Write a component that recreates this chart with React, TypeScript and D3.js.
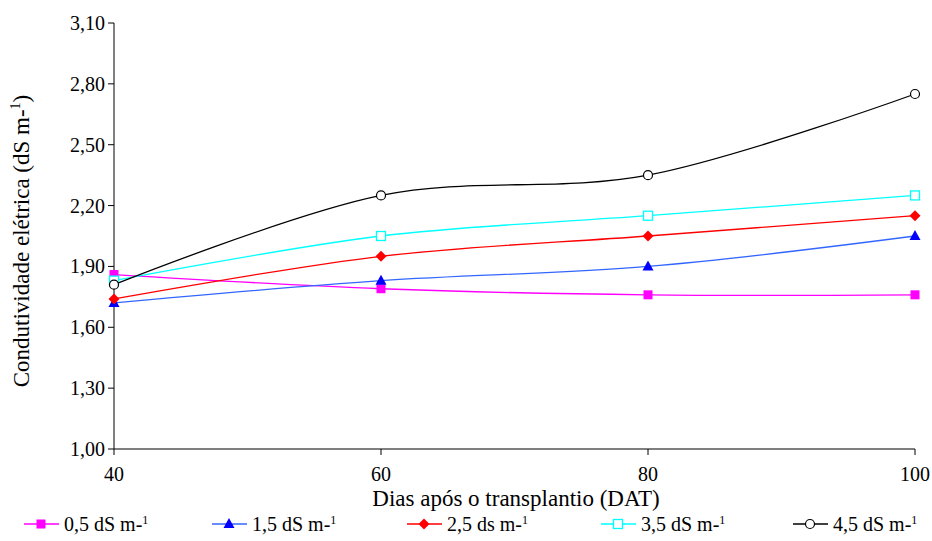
import React from "react";
import * as d3 from "d3";

const days = [40, 60, 80, 100];
const s05 = [1.86, 1.79, 1.76, 1.76];
const s15 = [1.72, 1.83, 1.90, 2.05];
const s25 = [1.74, 1.95, 2.05, 2.15];
const s35 = [1.83, 2.05, 2.15, 2.25];
const s45 = [1.81, 2.25, 2.35, 2.75];
const yTicks = [1.0, 1.3, 1.6, 1.9, 2.2, 2.5, 2.8, 3.1];
const seriesNames = ["0,5 dS m-", "1,5 dS m-", "2,5 ds m-", "3,5 dS m-", "4,5 dS m-"];

const W = 932, H = 541;
const L = 114, R = 915, T = 23, B = 449;
const FONT = "'Liberation Serif', 'Times New Roman', serif";
const ts: React.CSSProperties = { fontFamily: FONT };

type Marker = "square" | "triangle" | "diamond" | "osquare" | "circle";
const series = [
  { name: seriesNames[0], values: s05, line: "#ff00ff", mark: "#ff00ff", marker: "square" as Marker },
  { name: seriesNames[1], values: s15, line: "#3366ff", mark: "#0000ff", marker: "triangle" as Marker },
  { name: seriesNames[2], values: s25, line: "#ff0000", mark: "#ff0000", marker: "diamond" as Marker },
  { name: seriesNames[3], values: s35, line: "#00ffff", mark: "#00ffff", marker: "osquare" as Marker },
  { name: seriesNames[4], values: s45, line: "#000000", mark: "#000000", marker: "circle" as Marker },
];

function MarkerShape({ type, x, y, color }: { type: Marker; x: number; y: number; color: string }) {
  switch (type) {
    case "square":
      return <rect x={x - 4.5} y={y - 4.5} width={9} height={9} fill={color} />;
    case "triangle":
      return <path d={`M${x},${y - 6} L${x + 5.5},${y + 4} L${x - 5.5},${y + 4} Z`} fill={color} />;
    case "diamond":
      return <path d={`M${x},${y - 5.5} L${x + 5.5},${y} L${x},${y + 5.5} L${x - 5.5},${y} Z`} fill={color} />;
    case "osquare":
      return <rect x={x - 4.5} y={y - 4.5} width={9} height={9} fill="white" stroke={color} strokeWidth={1.3} />;
    case "circle":
      return <circle cx={x} cy={y} r={4.5} fill="white" stroke={color} strokeWidth={1.2} />;
  }
}

export default function App() {
  const x = d3.scaleLinear().domain([40, 100]).range([L, R]);
  const y = d3.scaleLinear().domain([1.0, 3.1]).range([B, T]);
  const line = d3
    .line<number>()
    .x((_, i) => x(days[i]))
    .y((v) => y(v))
    .curve(d3.curveCardinal.tension(0));
  const fmt = (v: number) => v.toFixed(2).replace(".", ",");
  const legendX = [24, 212, 407, 601, 793];
  const legendY = 524;

  return (
    <svg width={W} height={H} style={{ position: "absolute", left: 0, top: 0, background: "white" }}>
      {/* axes */}
      <line x1={L} x2={L} y1={T} y2={B} stroke="#000" strokeWidth={1} />
      <line x1={L} x2={R} y1={B} y2={B} stroke="#000" strokeWidth={1.2} />
      {yTicks.map((t) => (
        <g key={t}>
          <line x1={L - 6} x2={L} y1={y(t)} y2={y(t)} stroke="#000" />
          <text x={L - 9} y={y(t)} dy="0.35em" textAnchor="end" fontSize={20} style={ts}>
            {fmt(t)}
          </text>
        </g>
      ))}
      {days.map((d) => (
        <g key={d}>
          <line x1={x(d)} x2={x(d)} y1={B} y2={B + 6} stroke="#000" />
          <text x={x(d)} y={B + 32} textAnchor="middle" fontSize={20} style={ts}>
            {d}
          </text>
        </g>
      ))}
      <text x={516} y={506} textAnchor="middle" fontSize={23} style={ts}>
        Dias após o transplantio (DAT)
      </text>
      <text transform={`translate(29,241) rotate(-90)`} textAnchor="middle" fontSize={23} style={ts}>
        Condutividade elétrica (dS m-<tspan dy="-9" fontSize={14}>1</tspan><tspan dy="9">)</tspan>
      </text>

      {/* series */}
      {series.map((s) => (
        <g key={s.name}>
          <path d={line(s.values) || ""} fill="none" stroke={s.line} strokeWidth={1.3} />
          {s.values.map((v, i) => (
            <MarkerShape key={i} type={s.marker} x={x(days[i])} y={y(v)} color={s.mark} />
          ))}
        </g>
      ))}

      {/* legend */}
      {series.map((s, i) => (
        <g key={s.name}>
          <line x1={legendX[i]} x2={legendX[i] + 35} y1={legendY} y2={legendY} stroke={s.line} strokeWidth={1.3} />
          <MarkerShape type={s.marker} x={legendX[i] + 17} y={legendY} color={s.mark} />
          <text x={legendX[i] + 40} y={legendY} dy="0.35em" fontSize={20} style={ts}>
            {s.name}
            <tspan dy="-7" fontSize={12}>1</tspan>
          </text>
        </g>
      ))}
    </svg>
  );
}
